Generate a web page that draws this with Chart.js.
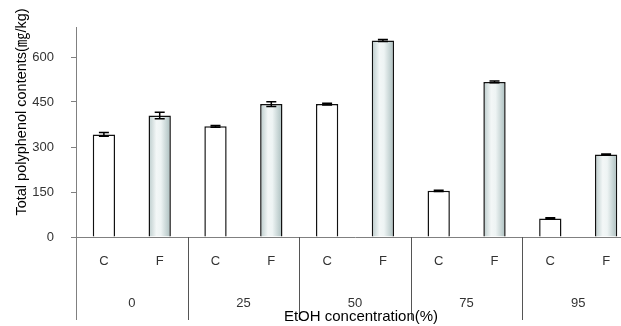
<!DOCTYPE html>
<html>
<head>
<meta charset="utf-8">
<script src="https://cdn.jsdelivr.net/npm/chart.js@4"></script>
<style>
html,body{margin:0;padding:0;background:#fff;overflow:hidden;width:621px;height:326px;}
canvas{display:block;}
</style>
</head>
<body>
<canvas id="c" width="640" height="326"></canvas>
<script>
// ---- data ----
const groups = ['0', '25', '50', '75', '95'];
const treatments = ['C', 'F'];
const cValues = [342, 369, 443, 154, 62];
const fValues = [405, 443, 655, 517, 275];
const cErrors = [6, 3, 3, 2, 2];
const fErrors = [11, 8, 3, 3, 2];
const yTicks = [0, 150, 300, 450, 600];
const yTitle = 'Total polyphenol contents(㎎/kg)';
const xTitle = 'EtOH concentration(%)';

// build flat table
const labels = [], values = [], errors = [], kinds = [];
groups.forEach((g, i) => {
  labels.push(treatments[0]); values.push(cValues[i]); errors.push(cErrors[i]); kinds.push('C');
  labels.push(treatments[1]); values.push(fValues[i]); errors.push(fErrors[i]); kinds.push('F');
});

const FONT = '"Liberation Sans", Arial, "Noto Sans CJK KR", sans-serif';
const BAR_PCT = 0.4;

function barFill(ctx) {
  if (kinds[ctx.dataIndex] === 'C') return '#ffffff';
  const chart = ctx.chart;
  const xs = chart.scales.x;
  if (!xs || xs.width == null) return '#dde8e8';
  const cx = xs.getPixelForValue(ctx.dataIndex);
  const w = xs.width / labels.length * BAR_PCT;
  const g = chart.ctx.createLinearGradient(cx - w / 2, 0, cx + w / 2, 0);
  g.addColorStop(0, '#b9caca');
  g.addColorStop(0.35, '#f3f7f7');
  g.addColorStop(0.55, '#eef4f4');
  g.addColorStop(1, '#a9bdbd');
  return g;
}

const extras = {
  id: 'extras',
  afterDatasetsDraw(chart) {
    const c = chart.ctx, xs = chart.scales.x, ys = chart.scales.y;
    const meta = chart.getDatasetMeta(0);
    c.save();
    // error bars
    c.strokeStyle = '#000';
    c.lineWidth = 1.5;
    meta.data.forEach((el, i) => {
      const x = el.x;
      const yt = ys.getPixelForValue(values[i] + errors[i]);
      const yb = ys.getPixelForValue(values[i] - errors[i]);
      c.beginPath();
      c.moveTo(x, yt); c.lineTo(x, yb);
      c.moveTo(x - 5, yt); c.lineTo(x + 5, yt);
      c.moveTo(x - 5, yb); c.lineTo(x + 5, yb);
      c.stroke();
    });
    const base = chart.chartArea.bottom;
    // y-axis extension below baseline
    c.strokeStyle = '#808080';
    c.lineWidth = 1;
    c.beginPath();
    c.moveTo(chart.chartArea.left + 0.5, base);
    c.lineTo(chart.chartArea.left + 0.5, 320);
    c.stroke();
    // group separators
    c.strokeStyle = '#555';
    for (let i = 1; i < groups.length; i++) {
      const x = Math.round((xs.getPixelForValue(2 * i - 1) + xs.getPixelForValue(2 * i)) / 2) + 0.5;
      c.beginPath();
      c.moveTo(x, base);
      c.lineTo(x, 320);
      c.stroke();
    }
    // group labels
    c.fillStyle = '#333';
    c.font = '13px ' + FONT;
    c.textAlign = 'center';
    c.textBaseline = 'middle';
    groups.forEach((g, i) => {
      const x = (xs.getPixelForValue(2 * i) + xs.getPixelForValue(2 * i + 1)) / 2;
      c.fillText(g, x, 303.5);
    });
    // x title
    c.fillStyle = '#000';
    c.font = '15px ' + FONT;
    c.fillText(xTitle, 361, 317);
    // y title
    c.font = '14.5px ' + FONT;
    c.translate(22, 112);
    c.rotate(-Math.PI / 2);
    c.fillText(yTitle, 0, 0);
    c.restore();
  }
};

new Chart(document.getElementById('c'), {
  type: 'bar',
  data: {
    labels: labels,
    datasets: [{
      data: values,
      backgroundColor: barFill,
      borderColor: '#111',
      borderWidth: 1.5,
      categoryPercentage: 1,
      barPercentage: BAR_PCT
    }]
  },
  options: {
    responsive: false,
    animation: false,
    layout: { padding: { top: 27, right: 6, left: 0, bottom: 0 } },
    plugins: { legend: { display: false }, tooltip: { enabled: false } },
    scales: {
      x: {
        grid: { display: false, drawTicks: false },
        border: { display: true, color: '#808080', width: 1 },
        ticks: { color: '#333', font: { family: FONT, size: 13 }, padding: 17, maxRotation: 0, autoSkip: false },
        afterFit(scale) { scale.height = 89; }
      },
      y: {
        min: 0,
        max: 700,
        afterBuildTicks(scale) { scale.ticks = yTicks.map(v => ({ value: v })); },
        grid: { drawOnChartArea: false, drawTicks: true, tickLength: 5, color: '#808080' },
        border: { display: true, color: '#808080', width: 1 },
        ticks: { color: '#333', font: { family: FONT, size: 13 }, padding: 17 },
        afterFit(scale) { scale.width = 76; }
      }
    }
  },
  plugins: [extras]
});
</script>
</body>
</html>
